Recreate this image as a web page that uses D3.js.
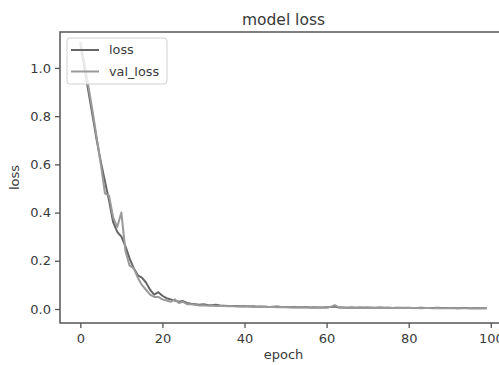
<!DOCTYPE html>
<html><head><meta charset="utf-8">
<script src="https://cdn.jsdelivr.net/npm/d3@7"></script>
<style>body{margin:0;background:#fff}svg{display:block}text{font-family:"DejaVu Sans",sans-serif}</style>
</head><body><svg id="c" width="499" height="365"></svg>
<script>
const title = "model loss";
const xLabel = "epoch";
const yLabel = "loss";
const seriesNames = ["loss", "val_loss"];
const xTicks = [0, 20, 40, 60, 80, 100];
const yTicks = [0.0, 0.2, 0.4, 0.6, 0.8, 1.0];
const loss = [
 1.10, 1.00, 0.90, 0.80, 0.70, 0.61, 0.53, 0.45, 0.36, 0.32,
 0.30, 0.26, 0.21, 0.17, 0.14, 0.13, 0.11, 0.08, 0.06, 0.07,
 0.055, 0.045, 0.040, 0.035, 0.030, 0.033, 0.025, 0.022, 0.020, 0.018,
 0.020, 0.017, 0.016, 0.018, 0.015, 0.014, 0.013, 0.012, 0.012, 0.011,
 0.012, 0.010, 0.011, 0.009, 0.010, 0.009, 0.008, 0.009, 0.010, 0.008,
 0.008, 0.007, 0.008, 0.007, 0.007, 0.008, 0.006, 0.007, 0.006, 0.006,
 0.007, 0.008, 0.010, 0.006, 0.006, 0.005, 0.006, 0.005, 0.006, 0.005,
 0.006, 0.005, 0.005, 0.006, 0.005, 0.005, 0.004, 0.005, 0.005, 0.004,
 0.005, 0.004, 0.004, 0.005, 0.004, 0.004, 0.004, 0.005, 0.004, 0.004,
 0.004, 0.004, 0.003, 0.004, 0.004, 0.003, 0.004, 0.003, 0.003, 0.003
];
const valLoss = [
 1.11, 1.02, 0.92, 0.82, 0.71, 0.60, 0.48, 0.47, 0.38, 0.34,
 0.40, 0.24, 0.18, 0.17, 0.13, 0.10, 0.08, 0.06, 0.05, 0.05,
 0.040, 0.035, 0.030, 0.040, 0.025, 0.030, 0.020, 0.020, 0.018, 0.015,
 0.016, 0.014, 0.015, 0.013, 0.014, 0.012, 0.011, 0.012, 0.010, 0.011,
 0.010, 0.012, 0.009, 0.010, 0.008, 0.009, 0.008, 0.008, 0.007, 0.008,
 0.007, 0.007, 0.006, 0.007, 0.006, 0.007, 0.006, 0.005, 0.006, 0.006,
 0.005, 0.009, 0.016, 0.007, 0.005, 0.005, 0.006, 0.005, 0.005, 0.006,
 0.005, 0.005, 0.004, 0.005, 0.004, 0.005, 0.004, 0.004, 0.004, 0.005,
 0.004, 0.004, 0.004, 0.003, 0.004, 0.004, 0.003, 0.004, 0.003, 0.003,
 0.004, 0.003, 0.003, 0.003, 0.003, 0.004, 0.003, 0.003, 0.003, 0.003
];

const svg = d3.select("#c");
const L = 60, R = 507, T = 32, B = 323;
const x = d3.scaleLinear().domain([-4.95, 103.95]).range([L, R]);
const y = d3.scaleLinear().domain([-0.058, 1.149]).range([B, T]);
const axisCol = "#555", textCol = "#3a3a3a";
const colors = ["#666", "#9a9a9a"];

const line = d3.line().x((d,i)=>x(i)).y(d=>y(d));
const g = svg.append("g");
g.append("clipPath").attr("id","clip").append("rect").attr("x",L).attr("y",T).attr("width",R-L).attr("height",B-T);
[loss, valLoss].forEach((s,k)=>{
  g.append("path").datum(s).attr("d", line).attr("fill","none")
   .attr("stroke", colors[k]).attr("stroke-width", 2).attr("stroke-linejoin","round")
   .attr("clip-path","url(#clip)");
});

// axes
const xa = svg.append("g").attr("transform",`translate(0,${B})`)
  .call(d3.axisBottom(x).tickValues(xTicks).tickFormat(d3.format("d")).tickSize(5).tickSizeOuter(0));
const ya = svg.append("g").attr("transform",`translate(${L},0)`)
  .call(d3.axisLeft(y).tickValues(yTicks).tickFormat(d3.format(".1f")).tickSize(5).tickSizeOuter(0));
[xa, ya].forEach(a=>{
  a.select(".domain").remove();
  a.selectAll("line").attr("stroke", axisCol).attr("stroke-width",1.3);
  a.selectAll("text").attr("fill", textCol).style("font-size","13px");
});
xa.selectAll("text").attr("dy","0.9em");
ya.selectAll("text").attr("x",-9);
// frame
svg.append("rect").attr("x",L).attr("y",T).attr("width",R-L).attr("height",B-T)
  .attr("fill","none").attr("stroke",axisCol).attr("stroke-width",1.5);

// labels
svg.append("text").attr("x",(L+R)/2).attr("y",25).attr("text-anchor","middle")
  .style("font-size","15.5px").attr("fill",textCol).text(title);
svg.append("text").attr("x",(L+R)/2).attr("y",359).attr("text-anchor","middle")
  .style("font-size","13px").attr("fill",textCol).text(xLabel);
svg.append("text").attr("transform",`translate(19,${(T+B)/2}) rotate(-90)`).attr("text-anchor","middle")
  .style("font-size","13px").attr("fill",textCol).text(yLabel);

// legend
const lg = svg.append("g");
lg.append("rect").attr("x",67).attr("y",38).attr("width",100).attr("height",46).attr("rx",3)
  .attr("fill","#fff").attr("fill-opacity",0.8).attr("stroke","#d0d0d0").attr("stroke-width",1);
seriesNames.forEach((n,k)=>{
  const yy = 50 + k*21.5;
  lg.append("line").attr("x1",71).attr("x2",99).attr("y1",yy).attr("y2",yy)
    .attr("stroke",colors[k]).attr("stroke-width",2);
  lg.append("text").attr("x",109).attr("y",yy).attr("dy","0.35em")
    .style("font-size","12.8px").attr("fill",textCol).text(n);
});
</script></body></html>
